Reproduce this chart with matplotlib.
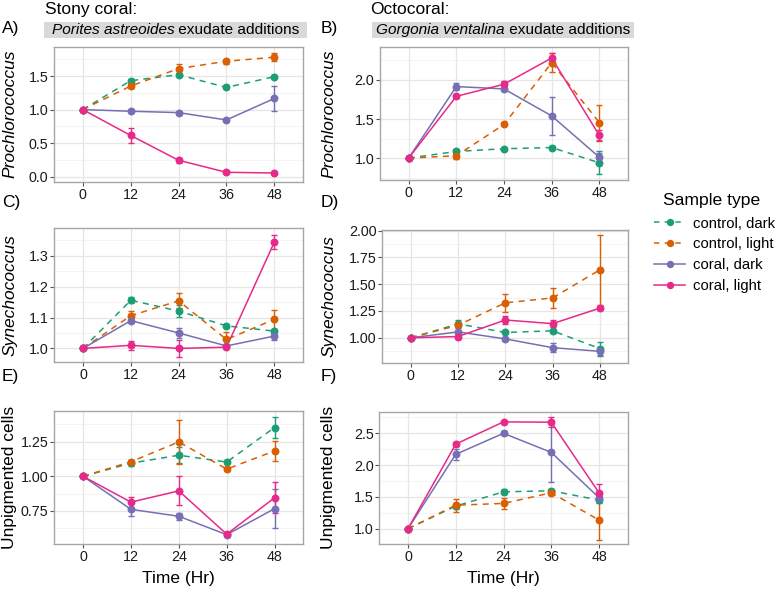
import matplotlib
matplotlib.use('Agg')
import matplotlib.pyplot as plt
from matplotlib.lines import Line2D
from matplotlib.patches import Rectangle
from matplotlib.ticker import FixedLocator

plt.rcParams['font.family'] = ['Liberation Sans', 'DejaVu Sans']

W, H = 778, 590

time_hr = [0, 12, 24, 36, 48]
groups = ['control, dark', 'control, light', 'coral, dark', 'coral, light']
group_colors = ['#1B9E77', '#D95F02', '#7570B3', '#E7298A']
group_dashed = [True, True, False, False]

# ---- Panel A: Prochlorococcus, Porites ----
A_cd = [1.0, 1.43, 1.52, 1.33, 1.49]
A_cd_se = [0, 0.03, 0.02, 0.015, 0.02]
A_cl = [1.0, 1.35, 1.61, 1.72, 1.78]
A_cl_se = [0, 0.03, 0.075, 0.035, 0.06]
A_kd = [1.0, 0.975, 0.955, 0.845, 1.165]
A_kd_se = [0, 0.015, 0.01, 0.01, 0.19]
A_kl = [1.0, 0.615, 0.245, 0.065, 0.055]
A_kl_se = [0, 0.11, 0.035, 0.01, 0.01]

# ---- Panel B: Prochlorococcus, Gorgonia ----
B_cd = [1.0, 1.085, 1.12, 1.135, 0.94]
B_cd_se = [0, 0.03, 0.015, 0.015, 0.145]
B_cl = [1.0, 1.03, 1.43, 2.22, 1.455]
B_cl_se = [0, 0.04, 0.01, 0.12, 0.22]
B_kd = [1.0, 1.915, 1.885, 1.54, 1.01]
B_kd_se = [0, 0.04, 0.02, 0.245, 0.05]
B_kl = [1.0, 1.79, 1.945, 2.28, 1.29]
B_kl_se = [0, 0.01, 0.04, 0.07, 0.07]

# ---- Panel C: Synechococcus, Porites ----
C_cd = [1.0, 1.156, 1.121, 1.073, 1.056]
C_cd_se = [0, 0.01, 0.02, 0.005, 0.005]
C_cl = [1.0, 1.106, 1.154, 1.029, 1.094]
C_cl_se = [0, 0.016, 0.024, 0.025, 0.03]
C_kd = [1.0, 1.09, 1.05, 1.008, 1.04]
C_kd_se = [0, 0.005, 0.015, 0.003, 0.012]
C_kl = [1.0, 1.01, 1.0, 1.004, 1.344]
C_kl_se = [0, 0.015, 0.027, 0.004, 0.023]

# ---- Panel D: Synechococcus, Gorgonia ----
D_cd = [1.0, 1.13, 1.05, 1.065, 0.90]
D_cd_se = [0, 0.04, 0.015, 0.02, 0.065]
D_cl = [1.0, 1.117, 1.326, 1.372, 1.634]
D_cl_se = [0, 0.015, 0.085, 0.09, 0.325]
D_kd = [1.0, 1.055, 0.99, 0.908, 0.874]
D_kd_se = [0, 0.01, 0.015, 0.04, 0.035]
D_kl = [1.0, 1.012, 1.166, 1.132, 1.277]
D_kl_se = [0, 0.025, 0.04, 0.035, 0.02]

# ---- Panel E: Unpigmented cells, Porites ----
E_cd = [1.0, 1.095, 1.152, 1.103, 1.352]
E_cd_se = [0, 0.02, 0.057, 0.005, 0.077]
E_cl = [1.0, 1.105, 1.248, 1.052, 1.183]
E_cl_se = [0, 0.01, 0.157, 0.013, 0.07]
E_kd = [1.0, 0.762, 0.712, 0.579, 0.767]
E_kd_se = [0, 0.045, 0.025, 0.008, 0.14]
E_kl = [1.0, 0.814, 0.895, 0.583, 0.845]
E_kl_se = [0, 0.04, 0.105, 0.01, 0.112]

# ---- Panel F: Unpigmented cells, Gorgonia ----
F_cd = [1.0, 1.356, 1.58, 1.597, 1.45]
F_cd_se = [0, 0.05, 0.04, 0.03, 0.04]
F_cl = [1.0, 1.37, 1.398, 1.565, 1.136]
F_cl_se = [0, 0.10, 0.09, 0.04, 0.32]
F_kd = [1.0, 2.17, 2.5, 2.2, 1.487]
F_kd_se = [0, 0.09, 0.03, 0.46, 0.05]
F_kl = [1.0, 2.33, 2.68, 2.675, 1.565]
F_kl_se = [0, 0.03, 0.01, 0.08, 0.14]

A_yticks = [0.0, 0.5, 1.0, 1.5]
B_yticks = [1.0, 1.5, 2.0]
C_yticks = [1.0, 1.1, 1.2, 1.3]
D_yticks = [1.00, 1.25, 1.50, 1.75, 2.00]
E_yticks = [0.75, 1.00, 1.25]
F_yticks = [1.0, 1.5, 2.0, 2.5]

fig = plt.figure(figsize=(W / 100, H / 100), dpi=100)
fig.patch.set_facecolor('white')

TICK_FS = 10.3
TITLE_FS = 12.5
BORDER = '#A6A6A6'
GRID_MAJ = '#E6E6E6'
GRID_MIN = '#F2F2F2'


def make_ax(l, t, r, b):
    return fig.add_axes([l / W, 1 - b / H, (r - l) / W, (b - t) / H])


def draw_panel(ax, series, ses, ylim, yticks, fmt):
    ax.set_xlim(-7.2, 55.2)
    ax.set_ylim(*ylim)
    ax.xaxis.set_major_locator(FixedLocator(time_hr))
    ax.set_xticklabels([str(t) for t in time_hr])
    ax.yaxis.set_major_locator(FixedLocator(yticks))
    ax.set_yticklabels([fmt.format(v) for v in yticks])
    step = yticks[1] - yticks[0]
    minors = [yticks[0] - step / 2] + [v + step / 2 for v in yticks]
    minors = [m for m in minors if ylim[0] < m < ylim[1]]
    for m in minors:
        ax.axhline(m, color=GRID_MIN, lw=0.6, zorder=0)
    for v in yticks:
        ax.axhline(v, color=GRID_MAJ, lw=0.9, zorder=0.1)
    for t in time_hr:
        ax.axvline(t, color=GRID_MAJ, lw=0.9, zorder=0.1)
    for s in ax.spines.values():
        s.set_color(BORDER)
        s.set_linewidth(1.0)
    ax.tick_params(axis='both', length=2.6, width=0.8, color='#555555',
                   labelsize=TICK_FS, labelcolor='#1a1a1a', pad=1.5)
    ax.tick_params(axis='x', pad=2.0)
    order = [0, 1, 3, 2]
    for k in order:
        c = group_colors[k]
        y = series[k]
        e = ses[k]
        ax.errorbar(time_hr, y, yerr=e, fmt='none', ecolor=c, elinewidth=1.0,
                    capsize=2.3, capthick=1.0, zorder=2 + k * 0.01)
        ln, = ax.plot(time_hr, y, color=c, lw=1.1, zorder=2.5 + k * 0.01)
        if group_dashed[k]:
            ln.set_dashes((4, 3.5))
        ax.plot(time_hr, y, 'o', color=c, ms=4.7, mec=c, zorder=3 + k * 0.01)


axA = make_ax(54, 46.7, 303, 181.7)
draw_panel(axA, [A_cd, A_cl, A_kd, A_kl], [A_cd_se, A_cl_se, A_kd_se, A_kl_se],
           (-0.075, 1.937), A_yticks, '{:.1f}')
axB = make_ax(380, 46.7, 628, 180)
draw_panel(axB, [B_cd, B_cl, B_kd, B_kl], [B_cd_se, B_cl_se, B_kd_se, B_kl_se],
           (0.72, 2.425), B_yticks, '{:.1f}')
axC = make_ax(54.3, 228.3, 303, 361.7)
draw_panel(axC, [C_cd, C_cl, C_kd, C_kl], [C_cd_se, C_cl_se, C_kd_se, C_kl_se],
           (0.957, 1.389), C_yticks, '{:.1f}')
axD = make_ax(382.3, 230, 628.3, 362.7)
draw_panel(axD, [D_cd, D_cl, D_kd, D_kl], [D_cd_se, D_cl_se, D_kd_se, D_kl_se],
           (0.768, 2.005), D_yticks, '{:.2f}')
axE = make_ax(54.3, 411, 303.3, 544)
draw_panel(axE, [E_cd, E_cl, E_kd, E_kl], [E_cd_se, E_cl_se, E_kd_se, E_kl_se],
           (0.512, 1.471), E_yticks, '{:.2f}')
axF = make_ax(379.3, 411.7, 627.7, 544)
draw_panel(axF, [F_cd, F_cl, F_kd, F_kl], [F_cd_se, F_cl_se, F_kd_se, F_kl_se],
           (0.76, 2.84), F_yticks, '{:.1f}')


def ftext(x, y, s, **kw):
    return fig.text(x / W, 1 - y / H, s, **kw)


# y-axis titles
for ax, lab, xc, ital in [(axA, 'Prochlorococcus', 10, True), (axB, 'Prochlorococcus', 329, True),
                          (axC, 'Synechococcus', 10, True), (axD, 'Synechococcus', 329, True),
                          (axE, 'Unpigmented cells', 10, False), (axF, 'Unpigmented cells', 329, False)]:
    pos = ax.get_position()
    fig.text(xc / W, pos.y0 + pos.height / 2, lab, rotation=90, ha='center', va='center',
             fontsize=TITLE_FS, style='italic' if ital else 'normal', color='black')

# x-axis titles
for ax in (axE, axF):
    pos = ax.get_position()
    fig.text(pos.x0 + pos.width / 2, 1 - 578 / H, 'Time (Hr)', ha='center', va='center',
             fontsize=TITLE_FS, color='black')

# panel letters
for lab, x, y in [('A)', 2, 28.5), ('B)', 321, 28.5), ('C)', 2, 203), ('D)', 321, 203),
                  ('E)', 2, 376), ('F)', 321, 376)]:
    ftext(x, y, lab, ha='left', va='center', fontsize=TITLE_FS, color='black')

# headers
ftext(45, 14, 'Stony coral:', ha='left', va='baseline', fontsize=TITLE_FS)
ftext(370, 14, 'Octocoral:', ha='left', va='baseline', fontsize=TITLE_FS)

for (x0, x1, ital, rest) in [(44, 307, 'Porites astreoides', ' exudate additions'),
                             (372, 634, 'Gorgonia ventalina', ' exudate additions')]:
    fig.add_artist(Rectangle((x0 / W, 1 - 37.7 / H), (x1 - x0) / W, 16 / H,
                             transform=fig.transFigure, facecolor='#D9D9D9',
                             edgecolor='none', zorder=0))
    renderer = fig.canvas.get_renderer()
    t1 = ftext(0, 0, ital, ha='left', va='baseline', fontsize=11.1, style='italic')
    t2 = ftext(0, 0, rest, ha='left', va='baseline', fontsize=11.1)
    w1 = t1.get_window_extent(renderer).width
    w2 = t2.get_window_extent(renderer).width
    start = (x0 + x1) / 2 - (w1 + w2) / 2
    t1.set_position((start / W, 1 - 34.0 / H))
    t2.set_position(((start + w1) / W, 1 - 34.0 / H))

# legend
handles = []
for k in range(4):
    h = Line2D([0], [0], color=group_colors[k], lw=1.1, marker='o', ms=4.3,
               mec=group_colors[k])
    if group_dashed[k]:
        h.set_dashes((3.5, 3.5))
    handles.append(h)
ftext(663, 200, 'Sample type', ha='left', va='center', fontsize=12.6)
fig.legend(handles, groups, loc='upper left', bbox_to_anchor=(654 / W, 1 - 216.5 / H),
           frameon=False, fontsize=10.7, handlelength=2.1, handletextpad=0.5,
           labelspacing=0.46, borderpad=0, borderaxespad=0)

fig.savefig('out.png', dpi=100)
